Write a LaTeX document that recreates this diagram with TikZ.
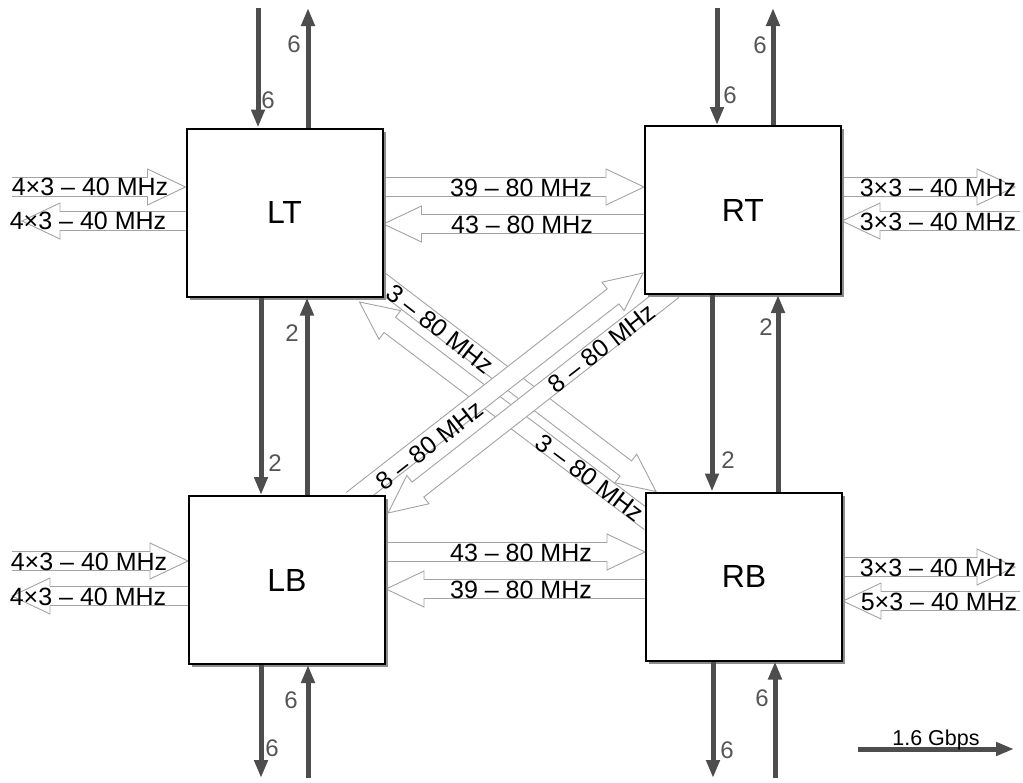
\documentclass[tikz,border=0pt]{standalone}
\usepackage{fontspec}
\setmainfont{Liberation Sans}
\usetikzlibrary{arrows.meta,calc,shadows,backgrounds}

\definecolor{busgray}{HTML}{4D4D4D}
\definecolor{numgray}{HTML}{555555}
\definecolor{outline}{HTML}{A3A3A3}

% hollow block arrow from #1 (tail) to #2 (tip)
\newcommand{\hollowarrow}[2]{%
  \coordinate (ha) at (#1);
  \coordinate (hz) at (#2);
  \coordinate (hb) at ($(hz)!38pt!(ha)$);
  \fill[white] ($(ha)!9.5pt!90:(hz)$) -- ($(hb)!9.5pt!-90:(ha)$) -- ($(hb)!18pt!-90:(ha)$) -- (hz)
    -- ($(hb)!18pt!90:(ha)$) -- ($(hb)!9.5pt!90:(ha)$) -- ($(ha)!9.5pt!-90:(hz)$) -- cycle;
  \draw[hollow] ($(ha)!9.5pt!90:(hz)$) -- ($(hb)!9.5pt!-90:(ha)$) -- ($(hb)!18pt!-90:(ha)$) -- (hz)
    -- ($(hb)!18pt!90:(ha)$) -- ($(hb)!9.5pt!90:(ha)$) -- ($(ha)!9.5pt!-90:(hz)$);
}

\begin{document}
\begin{tikzpicture}[x=1pt,y=-1pt]
        \tikzstyle{box} = [draw, line width=2pt, fill=white, minimum width=196pt, minimum height=168pt,
            font=\fontsize{32}{38}\selectfont,
            drop shadow={shadow xshift=3pt, shadow yshift=-3pt, fill=black!45, opacity=1}]
        \tikzstyle{bus} = [draw=busgray, line width=5pt, -{Triangle[width=13pt,length=18pt]}]
        \tikzstyle{num} = [text=numgray, font=\fontsize{24}{28}\selectfont, inner sep=0pt]
        \tikzstyle{freq} = [font=\fontsize{25}{30}\selectfont, inner sep=0pt]
        \tikzstyle{hollow} = [draw=outline, line width=0.9pt, line join=miter]

        \useasboundingbox (0,0) rectangle (1023,782);

        \node[box] (lt) at (284.5,212.5) {LT};
        \node[box] (rt) at (743,210) {RT};
        \node[box] (lb) at (287,580) {LB};
        \node[box] (rb) at (744,576.5) {RB};

        % channel groups
        \begin{scope}[on background layer]
            \coordinate (a1) at (12,187);
            \coordinate (a2) at (22,221);
            \coordinate (a3) at (0,187);
            \coordinate (a4) at (0,224);
            \coordinate (a5) at (1015,187);
            \coordinate (a6) at (1020,221);
            \coordinate (a7) at (12,561);
            \coordinate (a8) at (12,596);
            \coordinate (a9) at (0,552);
            \coordinate (a10) at (0,589);
            \coordinate (a11) at (1015,567);
            \coordinate (a12) at (1020,601);
            \hollowarrow{a1}{lt.west |- a1}
            \hollowarrow{lt.west |- a2}{a2}
            \hollowarrow{lt.east |- a3}{rt.west |- a3}
            \hollowarrow{rt.west |- a4}{lt.east |- a4}
            \hollowarrow{rt.east |- a5}{a5}
            \hollowarrow{a6}{rt.east |- a6}
            \hollowarrow{a7}{lb.west |- a7}
            \hollowarrow{lb.west |- a8}{a8}
            \hollowarrow{lb.east |- a9}{rb.west |- a9}
            \hollowarrow{rb.west |- a10}{lb.east |- a10}
            \hollowarrow{rb.east |- a11}{a11}
            \hollowarrow{a12}{rb.east |- a12}
            \hollowarrow{$(lt.south east)+(-7.5,-19.5)$}{$(rb.north west)+(11,0)$}
            \hollowarrow{$(rb.north west)+(5,30.5)$}{$(lt.south east)+(-24,4.5)$}
            \hollowarrow{$(lb.north east)+(-34,5)$}{$(rt.south west)+(-1,-22)$}
            \hollowarrow{$(rt.south west)+(29,-5)$}{$(lb.north east)+(2,18)$}
        \end{scope}

        \node[freq] (f1) at (90,187) {4×3 -- 40 MHz};
        \node[freq] (f2) at (88,221) {4×3 -- 40 MHz};
        \node[freq] (f3) at (521,188) {39 -- 80 MHz};
        \node[freq] (f4) at (522,225) {43 -- 80 MHz};
        \node[freq] (f5) at (938,188) {3×3 -- 40 MHz};
        \node[freq] (f6) at (938,222) {3×3 -- 40 MHz};
        \node[freq] (f7) at (89,562) {4×3 -- 40 MHz};
        \node[freq] (f8) at (88,597) {4×3 -- 40 MHz};
        \node[freq] (f9) at (521,553) {43 -- 80 MHz};
        \node[freq] (f10) at (521,590) {39 -- 80 MHz};
        \node[freq] (f11) at (938,568) {3×3 -- 40 MHz};
        \node[freq] (f12) at (939,602) {5×3 -- 40 MHz};
        \node[freq, rotate=-38] (f13) at (440,329) {3 -- 80 MHz};
        \node[freq, rotate=-37] (f14) at (590,478) {3 -- 80 MHz};
        \node[freq, rotate=38] (f15) at (430,445) {8 -- 80 MHz};
        \node[freq, rotate=38] (f16) at (602,348) {8 -- 80 MHz};

        % 1.6 Gbps links
        \coordinate (ltin) at (258,8);
        \coordinate (ltout) at (308,8);
        \coordinate (rtin) at (717,8);
        \coordinate (rtout) at (773,8);
        \coordinate (ldn) at (261,0);
        \coordinate (lup) at (307,0);
        \coordinate (rdn) at (712,0);
        \coordinate (rup) at (778,0);
        \coordinate (lbout) at (261,778);
        \coordinate (lbin) at (308,778);
        \coordinate (rbout) at (713,778);
        \coordinate (rbin) at (775,778);

        \draw[bus] (ltin) -- (ltin |- lt.north);
        \draw[bus] (ltout |- lt.north) -- (ltout);
        \draw[bus] (rtin) -- (rtin |- rt.north);
        \draw[bus] (rtout |- rt.north) -- (rtout);
        \draw[bus] (ldn |- lt.south) -- (ldn |- lb.north);
        \draw[bus] (lup |- lb.north) -- (lup |- lt.south);
        \draw[bus] (rdn |- rt.south) -- (rdn |- rb.north);
        \draw[bus] (rup |- rb.north) -- (rup |- rt.south);
        \draw[bus] (lbout |- lb.south) -- (lbout);
        \draw[bus] (lbin) -- (lbin |- lb.south);
        \draw[bus] (rbout |- rb.south) -- (rbout);
        \draw[bus] (rbin) -- (rbin |- rb.south);

        \node[num] (n1) at (268,100) {6};
        \node[num] (n2) at (294,44) {6};
        \node[num] (n3) at (730,95) {6};
        \node[num] (n4) at (760,45) {6};
        \node[num] (n5) at (292,333) {2};
        \node[num] (n6) at (275,463) {2};
        \node[num] (n7) at (766,327) {2};
        \node[num] (n8) at (728,460) {2};
        \node[num] (n9) at (291,700) {6};
        \node[num] (n10) at (272,748) {6};
        \node[num] (n11) at (762,698) {6};
        \node[num] (n12) at (727,750) {6};

        % scale
        \coordinate (lega) at (858,749);
        \coordinate (legb) at (1014,749);
        \draw[bus] (lega) -- (legb);
        \node[anchor=base, inner sep=0pt, font=\fontsize{21.5}{26}\selectfont] (leg) at (936,745.5) {1.6 Gbps};
\end{tikzpicture}
\end{document}
